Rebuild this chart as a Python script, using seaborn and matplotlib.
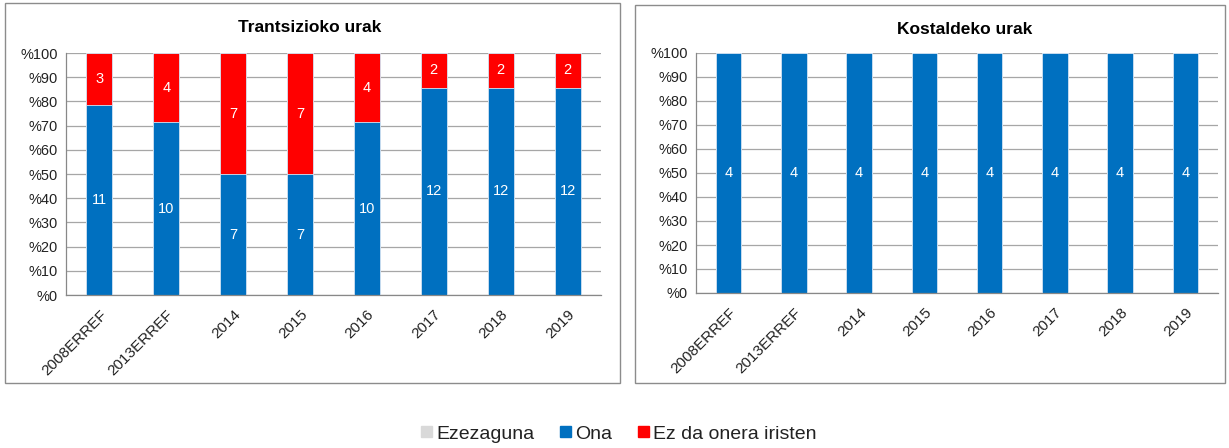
import matplotlib
matplotlib.use("Agg")
import matplotlib.pyplot as plt
import matplotlib.patches as mpatches
import numpy as np
import pandas as pd
import seaborn as sns

# Data
years = ["2008ERREF", "2013ERREF", "2014", "2015", "2016", "2017", "2018", "2019"]
trans_ona = [11, 10, 7, 7, 10, 12, 12, 12]
trans_ez_onera = [3, 4, 7, 7, 4, 2, 2, 2]
trans_ezezaguna = [0, 0, 0, 0, 0, 0, 0, 0]
kost_ona = [4, 4, 4, 4, 4, 4, 4, 4]
kost_ez_onera = [0, 0, 0, 0, 0, 0, 0, 0]
kost_ezezaguna = [0, 0, 0, 0, 0, 0, 0, 0]

titles = ["Trantsizioko urak", "Kostaldeko urak"]
series_names = ["Ezezaguna", "Ona", "Ez da onera iristen"]
colors = {"Ezezaguna": "#d9d9d9", "Ona": "#0070c0", "Ez da onera iristen": "#ff0000"}

sns.set_style("white")
plt.rcParams["font.family"] = ["Liberation Sans", "DejaVu Sans"]
text_color = "#222222"


def draw_panel(ax, ona, ez, unk):
    df = pd.DataFrame({"year": years, "Ona": ona, "Ez": ez, "Unk": unk})
    total = df["Ona"] + df["Ez"] + df["Unk"]
    df["ona_pct"] = df["Ona"] / total * 100
    df["ez_pct"] = (df["Ona"] + df["Ez"]) / total * 100
    df["all_pct"] = 100.0

    # stacked bars: draw the tallest cumulative first
    sns.barplot(data=df, x="year", y="all_pct", color=colors["Ezezaguna"],
                width=0.39, saturation=1, ax=ax, edgecolor="#d6e6f5", linewidth=0.6)
    sns.barplot(data=df, x="year", y="ez_pct", color=colors["Ez da onera iristen"],
                width=0.39, saturation=1, ax=ax, edgecolor="#d6e6f5", linewidth=0.6)
    sns.barplot(data=df, x="year", y="ona_pct", color=colors["Ona"],
                width=0.39, saturation=1, ax=ax, edgecolor="#d6e6f5", linewidth=0.6)

    # segment labels
    for i, row in df.iterrows():
        if row["Ona"] > 0:
            ax.text(i, row["ona_pct"] / 2, str(int(row["Ona"])), color="white",
                    ha="center", va="center", fontsize=10.5)
        if row["Ez"] > 0:
            ax.text(i, (row["ona_pct"] + row["ez_pct"]) / 2, str(int(row["Ez"])),
                    color="white", ha="center", va="center", fontsize=10.5)

    ax.set_ylim(0, 100)
    ax.set_xlim(-0.5, len(years) - 0.5)
    ax.set_yticks(np.arange(0, 101, 10))
    ax.set_yticklabels([f"%{v}" for v in range(0, 101, 10)], fontsize=10.5, color=text_color)
    ax.set_xticks(range(len(years)))
    ax.set_xticklabels(years, rotation=45, ha="right", rotation_mode="anchor",
                       fontsize=11, color=text_color)
    ax.tick_params(axis="x", which="major", length=0, pad=9)
    ax.set_xticks(np.arange(-0.5, len(years), 1), minor=True)
    ax.tick_params(axis="x", which="minor", length=5, color="#888888", width=0.8)
    ax.tick_params(axis="y", length=4, color="#888888", width=0.8, pad=2)
    ax.yaxis.grid(True, color="#a6a6a6", linewidth=0.9)
    ax.set_axisbelow(True)
    for side in ["top", "right"]:
        ax.spines[side].set_visible(False)
    for side in ["left", "bottom"]:
        ax.spines[side].set_color("#888888")
        ax.spines[side].set_linewidth(0.9)
    ax.set_xlabel("")
    ax.set_ylabel("")


fig = plt.figure(figsize=(12.29, 4.48), dpi=100)

# chart frames
fig.patches.append(mpatches.Rectangle((5 / 1229, 1 - 383 / 448), 615 / 1229, 380 / 448,
                                      transform=fig.transFigure, fill=False,
                                      edgecolor="#8c8c8c", linewidth=1))
fig.patches.append(mpatches.Rectangle((635 / 1229, 1 - 383 / 448), 590 / 1229, 378 / 448,
                                      transform=fig.transFigure, fill=False,
                                      edgecolor="#8c8c8c", linewidth=1))

ax1 = fig.add_axes([66 / 1229, 1 - 295 / 448, 535 / 1229, 242 / 448])
ax2 = fig.add_axes([696 / 1229, 1 - 293 / 448, 522 / 1229, 240 / 448])

draw_panel(ax1, trans_ona, trans_ez_onera, trans_ezezaguna)
draw_panel(ax2, kost_ona, kost_ez_onera, kost_ezezaguna)

fig.text(310 / 1229, 1 - 27 / 448, titles[0], ha="center", va="center",
         fontsize=12.5, fontweight="bold", color="black")
fig.text(965 / 1229, 1 - 30 / 448, titles[1], ha="center", va="center",
         fontsize=12.5, fontweight="bold", color="black")

handles = [mpatches.Patch(color=colors[n], label=n) for n in series_names]
fig.legend(handles=handles, loc="center", bbox_to_anchor=(619 / 1229, 1 - 434 / 448), ncol=3,
           frameon=False, fontsize=14, handlelength=0.55, handleheight=0.55,
           handletextpad=0.25, columnspacing=1.3, labelcolor=text_color)

fig.savefig("out.png", dpi=100)
